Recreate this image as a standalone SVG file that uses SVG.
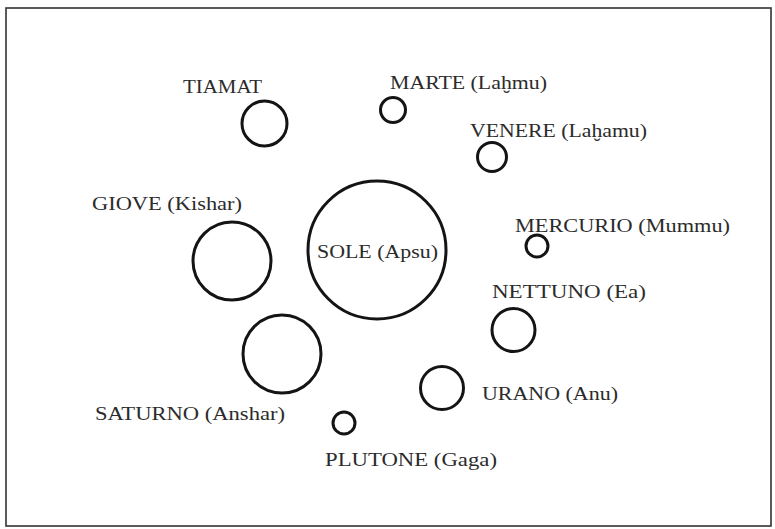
<svg xmlns="http://www.w3.org/2000/svg" width="775" height="529" viewBox="0 0 775 529">
<style>
.frame{fill:#fff;stroke:#333;stroke-width:1.6}
.body{fill:none;stroke:#141414;stroke-width:3}
.lbl{font-family:"Liberation Serif","Times New Roman",serif;font-size:19px;fill:#2b2b2b}
</style>
<rect x="0" y="0" width="775" height="529" fill="#fff"/>
<rect class="frame" x="6" y="8" width="765" height="518"/>
<g id="connectors"></g>
<g id="tiamat"><circle class="body" cx="264.5" cy="123.5" r="22.5"/><text class="lbl" x="183" y="93" textLength="79" lengthAdjust="spacingAndGlyphs">TIAMAT</text></g>
<g id="marte"><circle class="body" cx="393" cy="110" r="12.5"/><text class="lbl" x="390" y="89" textLength="157" lengthAdjust="spacingAndGlyphs">MARTE (Laḫmu)</text></g>
<g id="venere"><circle class="body" cx="492" cy="157" r="14.5"/><text class="lbl" x="470" y="137" textLength="177" lengthAdjust="spacingAndGlyphs">VENERE (Laḫamu)</text></g>
<g id="giove"><circle class="body" cx="232" cy="261" r="39"/><text class="lbl" x="92" y="210" textLength="150" lengthAdjust="spacingAndGlyphs">GIOVE (Kishar)</text></g>
<g id="sole"><circle class="body" cx="377" cy="250" r="69"/><text class="lbl" x="317" y="258" textLength="121" lengthAdjust="spacingAndGlyphs">SOLE (Apsu)</text></g>
<g id="mercurio"><circle class="body" cx="537" cy="246" r="11"/><text class="lbl" x="515" y="232" textLength="215" lengthAdjust="spacingAndGlyphs">MERCURIO (Mummu)</text></g>
<g id="nettuno"><circle class="body" cx="513.5" cy="330" r="21.5"/><text class="lbl" x="492" y="298" textLength="154" lengthAdjust="spacingAndGlyphs">NETTUNO (Ea)</text></g>
<g id="saturno"><circle class="body" cx="282" cy="354" r="39"/><text class="lbl" x="95" y="420" textLength="190" lengthAdjust="spacingAndGlyphs">SATURNO (Anshar)</text></g>
<g id="urano"><circle class="body" cx="442" cy="388" r="21.5"/><text class="lbl" x="482" y="400" textLength="136" lengthAdjust="spacingAndGlyphs">URANO (Anu)</text></g>
<g id="plutone"><circle class="body" cx="344" cy="423" r="11"/><text class="lbl" x="325" y="466" textLength="172" lengthAdjust="spacingAndGlyphs">PLUTONE (Gaga)</text></g>
</svg>
